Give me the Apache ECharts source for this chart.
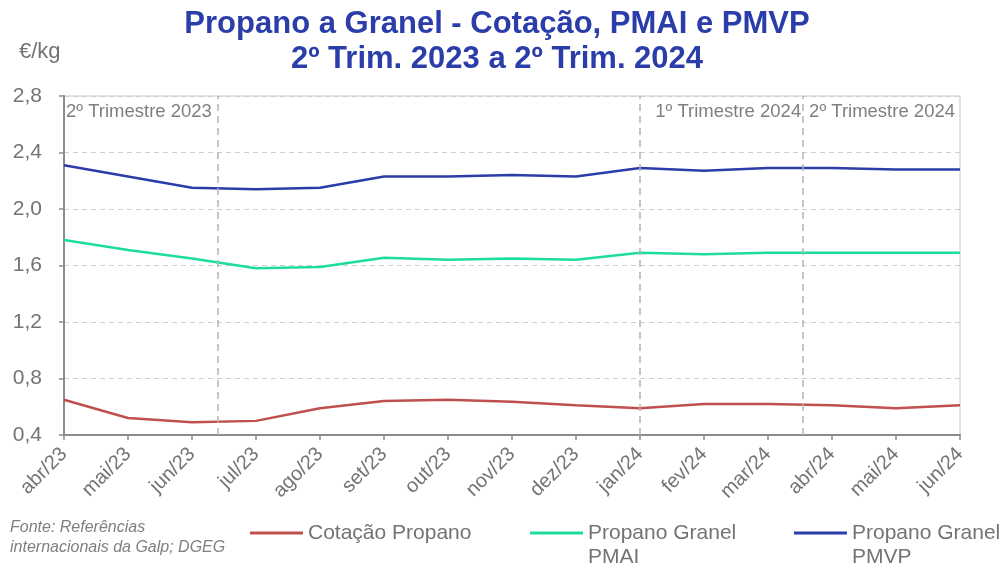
<!DOCTYPE html>
<html>
<head>
<meta charset="utf-8">
<script src="https://cdn.jsdelivr.net/npm/echarts@6/dist/echarts.min.js"></script>
<style>
  html, body { margin: 0; padding: 0; background: #fff; }
  #chart { width: 1004px; height: 570px; }
</style>
</head>
<body>
<div id="chart"></div>
<script>
// meses (abr/23 .. jun/24)
const months = ['abr/23', 'mai/23', 'jun/23', 'jul/23', 'ago/23', 'set/23', 'out/23',
  'nov/23', 'dez/23', 'jan/24', 'fev/24', 'mar/24', 'abr/24', 'mai/24', 'jun/24'];

const cotacao = [0.65, 0.52, 0.49, 0.50, 0.59, 0.64, 0.65, 0.635, 0.61, 0.59, 0.62, 0.62, 0.61, 0.59, 0.61];
const pmai = [1.78, 1.71, 1.65, 1.58, 1.59, 1.655, 1.64, 1.65, 1.64, 1.69, 1.68, 1.69, 1.69, 1.69, 1.69];
const pmvp = [2.31, 2.23, 2.15, 2.14, 2.15, 2.23, 2.23, 2.24, 2.23, 2.29, 2.27, 2.29, 2.29, 2.28, 2.28];

// limites dos trimestres (posição no eixo, em meses desde abr/23)
const quarterBounds = [2.4, 9, 11.55];
const quarterLabels = ['2º Trimestre 2023', '1º Trimestre 2024', '2º Trimestre 2024'];

const names = ['Cotação Propano', 'Propano Granel\nPMAI', 'Propano Granel\nPMVP'];
const colors = ['#C0504D', '#1DDCA0', '#2B3DA8'];

const FONT = 'Liberation Sans, Arial, sans-serif';
const GREY = '#737373';

const chart = echarts.init(document.getElementById('chart'));

const pairs = arr => arr.map((v, i) => [i, v]);

const legendLeft = [250, 530, 794];
const legendTop = [521, 497, 497];

const option = {
  animation: false,
  textStyle: { fontFamily: FONT },
  title: {
    text: 'Propano a Granel - Cotação, PMAI e PMVP\n2º Trim. 2023 a 2º Trim. 2024',
    left: 492,
    top: 2,
    textAlign: 'center',
    textStyle: {
      color: '#2B3DA8',
      fontSize: 31,
      fontWeight: 'bold',
      lineHeight: 35,
      fontFamily: FONT
    }
  },
  graphic: [
    {
      type: 'text', left: 19, top: 41,
      style: { text: '€/kg', fill: GREY, fontSize: 22, fontFamily: FONT }
    },
    {
      type: 'text', left: 10, top: 518,
      style: {
        text: 'Fonte: Referências\ninternacionais da Galp; DGEG',
        fill: '#7F7F7F', fontSize: 16, fontStyle: 'italic', lineHeight: 20, fontFamily: FONT
      }
    }
  ],
  legend: names.map((n, i) => ({
    data: [n],
    left: legendLeft[i],
    top: legendTop[i],
    padding: 0,
    icon: 'rect',
    itemWidth: 53,
    itemHeight: 3,
    // linha vazia no início para alinhar a 1ª linha do texto com o ícone
    formatter: name => (i === 0 ? name : '\n' + name),
    textStyle: { color: GREY, fontSize: 21, lineHeight: 24, fontFamily: FONT }
  })),
  grid: {
    left: 64,
    right: 44,
    top: 96,
    bottom: 135,
    show: true,
    borderColor: '#C8C8C8',
    borderWidth: 1
  },
  xAxis: {
    type: 'value',
    min: 0,
    max: months.length - 1,
    interval: 1,
    axisLine: { lineStyle: { color: '#8C8C8C', width: 2 } },
    axisTick: { show: true, length: 5, lineStyle: { color: '#8C8C8C', width: 1.5 } },
    splitLine: { show: false },
    axisLabel: {
      rotate: 45,
      margin: 16,
      color: GREY,
      fontSize: 20,
      fontFamily: FONT,
      formatter: v => months[v] || ''
    }
  },
  yAxis: {
    type: 'value',
    min: 0.4,
    max: 2.8,
    interval: 0.4,
    axisLine: { show: true, lineStyle: { color: '#8C8C8C', width: 2 } },
    axisTick: { show: true, length: 5, lineStyle: { color: '#8C8C8C', width: 1.5 } },
    splitLine: { show: true, lineStyle: { color: '#CFCFCF', type: [5, 4], width: 1 } },
    axisLabel: {
      color: GREY,
      fontSize: 21,
      margin: 22,
      fontFamily: FONT,
      formatter: v => v.toFixed(1).replace('.', ',')
    }
  },
  series: [
    {
      name: names[0],
      type: 'line',
      data: pairs(cotacao),
      symbol: 'none',
      color: colors[0],
      lineStyle: { width: 2.5 },
      markLine: {
        silent: true,
        symbol: 'none',
        label: { show: false },
        lineStyle: { color: '#B4B4B4', type: [7, 5], width: 1.5 },
        data: quarterBounds.map(x => ({ xAxis: x }))
      },
      markArea: {
        silent: true,
        itemStyle: { color: 'rgba(0,0,0,0)' },
        label: { color: '#7F7F7F', fontSize: 18.5, fontFamily: FONT, distance: 6 },
        data: [
          [{ xAxis: 0, yAxis: 2.8, name: quarterLabels[0], label: { position: 'insideTopLeft', offset: [-4, 0] } }, { xAxis: quarterBounds[0], yAxis: 0.4 }],
          [{ xAxis: quarterBounds[1], yAxis: 2.8, name: quarterLabels[1], label: { position: 'insideTopRight', offset: [4, 0] } }, { xAxis: quarterBounds[2], yAxis: 0.4 }],
          [{ xAxis: quarterBounds[2], yAxis: 2.8, name: quarterLabels[2], label: { position: 'insideTopRight', offset: [1, 0] } }, { xAxis: 14, yAxis: 0.4 }]
        ]
      }
    },
    {
      name: names[1],
      type: 'line',
      data: pairs(pmai),
      symbol: 'none',
      color: colors[1],
      lineStyle: { width: 2.5 }
    },
    {
      name: names[2],
      type: 'line',
      data: pairs(pmvp),
      symbol: 'none',
      color: colors[2],
      lineStyle: { width: 2.5 }
    }
  ]
};

chart.setOption(option);
</script>
</body>
</html>
